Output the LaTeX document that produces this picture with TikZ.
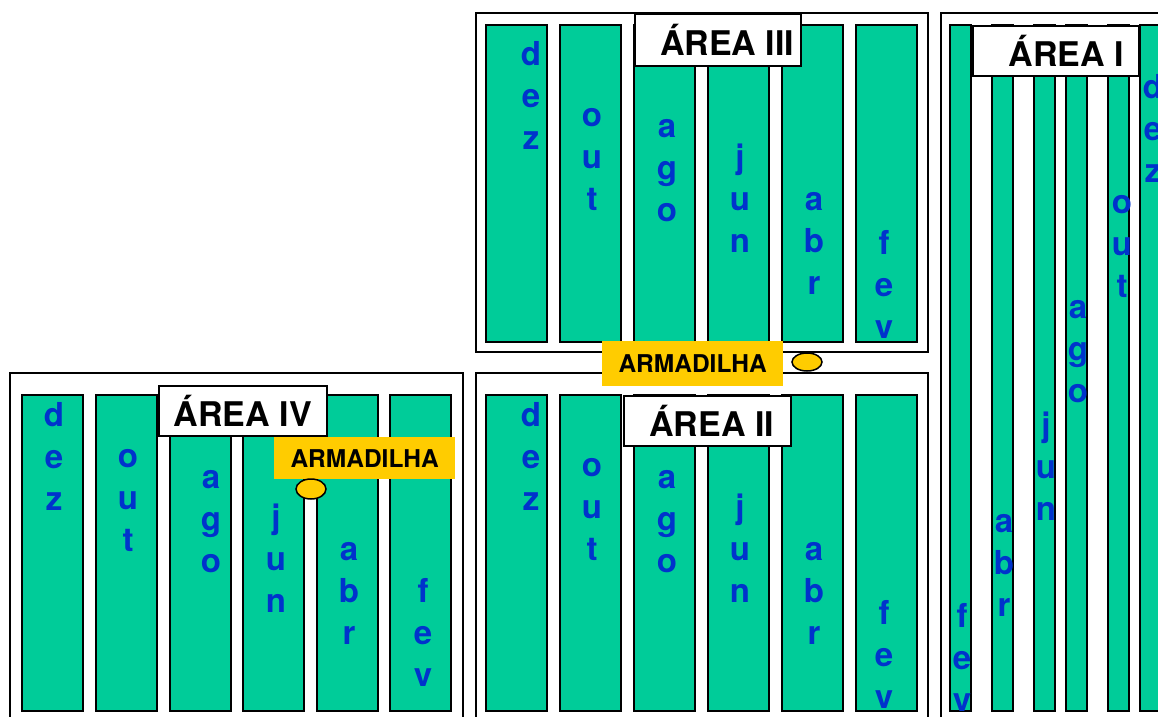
\documentclass[tikz,border=0pt]{standalone}
\usepackage{fontspec}
\setmainfont{TeX Gyre Heros}
\definecolor{talhao}{RGB}{0,204,153}
\definecolor{mesazul}{RGB}{0,51,204}
\definecolor{amarelo}{RGB}{255,204,0}
\tikzset{
  faixa/.style={draw=black, line width=1.5pt, fill=talhao},
  area/.style={draw=black, line width=2pt},
  rotulo/.style={draw=black, line width=1.5pt, fill=white, inner sep=0pt,
    anchor=north west, font=\bfseries\fontsize{34}{34}\selectfont},
  armadilha/.style={fill=amarelo, inner sep=0pt, anchor=north west,
    font=\bfseries\fontsize{24.5}{24.5}\selectfont},
  letra/.style={text=mesazul, inner sep=0pt, anchor=base,
    font=\bfseries\fontsize{33}{33}\selectfont},
  toca/.style={draw=black, line width=1.5pt, fill=amarelo},
}
% one month written downwards: name, x, first baseline, letters
\newcommand{\mes}[4]{%
  \foreach \l [count=\i from 0] in {#4}
    \node[letra] (#1\i) at (#2, #3+42*\i) {\l};
}
\begin{document}
\begin{tikzpicture}[x=1pt, y=-1pt]
  \useasboundingbox (0,0) rectangle (1158,716);
  \clip (0,0) rectangle (1158,716);

	% areas
	\draw[area] (476,13) rectangle (928,352);
	\draw[area] (476,373) rectangle (928,740);
	\draw[area] (10,373) rectangle (463,740);
	\draw[area] (941,13) rectangle (1200,740);

	% strips
	\foreach \x in {486,560,634,708,782,856} {
		\draw[faixa] (\x,25) rectangle ++(61,317);
		\draw[faixa] (\x,395) rectangle ++(61,316);
	}
	\foreach \x in {22,96,170,243,317,390}
		\draw[faixa] (\x,395) rectangle ++(61,316);
	\foreach \x in {950,992,1034,1066,1108}
		\draw[faixa] (\x,25) rectangle ++(21,686);
	\draw[faixa] (1140,25) rectangle (1200,711);

	% months, area III
	\mes{IIIdez}{531}{65}{d,e,z}
	\mes{IIIout}{592}{126}{o,u,t}
	\mes{IIIago}{667}{137}{a,g,o}
	\mes{IIIjun}{740}{168}{j,u,n}
	\mes{IIIabr}{814}{210}{a,b,r}
	\mes{IIIfev}{884}{254}{f,e,v}
	% months, area II
	\mes{IIdez}{531}{426}{d,e,z}
	\mes{IIout}{592}{476}{o,u,t}
	\mes{IIago}{667}{488}{a,g,o}
	\mes{IIjun}{740}{518}{j,u,n}
	\mes{IIabr}{814}{560}{a,b,r}
	\mes{IIfev}{884}{624}{f,e,v}
	% months, area IV
	\mes{IVdez}{54}{426}{d,e,z}
	\mes{IVout}{128}{467}{o,u,t}
	\mes{IVago}{211}{488}{a,g,o}
	\mes{IVjun}{276}{528}{j,u,n}
	\mes{IVabr}{349}{560}{a,b,r}
	\mes{IVfev}{423}{602}{f,e,v}
	% months, area I
	\mes{Idez}{1153}{98}{d,e,z}
	\mes{Iout}{1122}{213}{o,u,t}
	\mes{Iago}{1078}{318}{a,g,o}
	\mes{Ijun}{1046}{436}{j,u,n}
	\mes{Iabr}{1004}{532}{a,b,r}
	\mes{Ifev}{962}{627}{f,e,v}

	% labels
	\node[rotulo, minimum width=166pt, minimum height=52pt] (rotIII) at (634,13) {\hspace*{19pt}ÁREA III};
	\node[rotulo, minimum width=167pt, minimum height=50pt] (rotII) at (623,395) {\hspace*{9pt}ÁREA II};
	\node[rotulo, minimum width=168pt, minimum height=50pt] (rotIV) at (158,385) {ÁREA IV};
	\node[rotulo, minimum width=166pt, minimum height=50pt] (rotI) at (972,25) {\hspace*{21pt}ÁREA I};

	% traps
	\node[armadilha, minimum width=181pt, minimum height=45pt] (armA) at (602,341) {ARMADILHA};
	\draw[toca] (807,362) ellipse (15 and 9);
	\node[armadilha, minimum width=181pt, minimum height=42pt] (armB) at (274,437) {ARMADILHA};
	\draw[toca] (311,489) ellipse (15 and 10);

\end{tikzpicture}
\end{document}
